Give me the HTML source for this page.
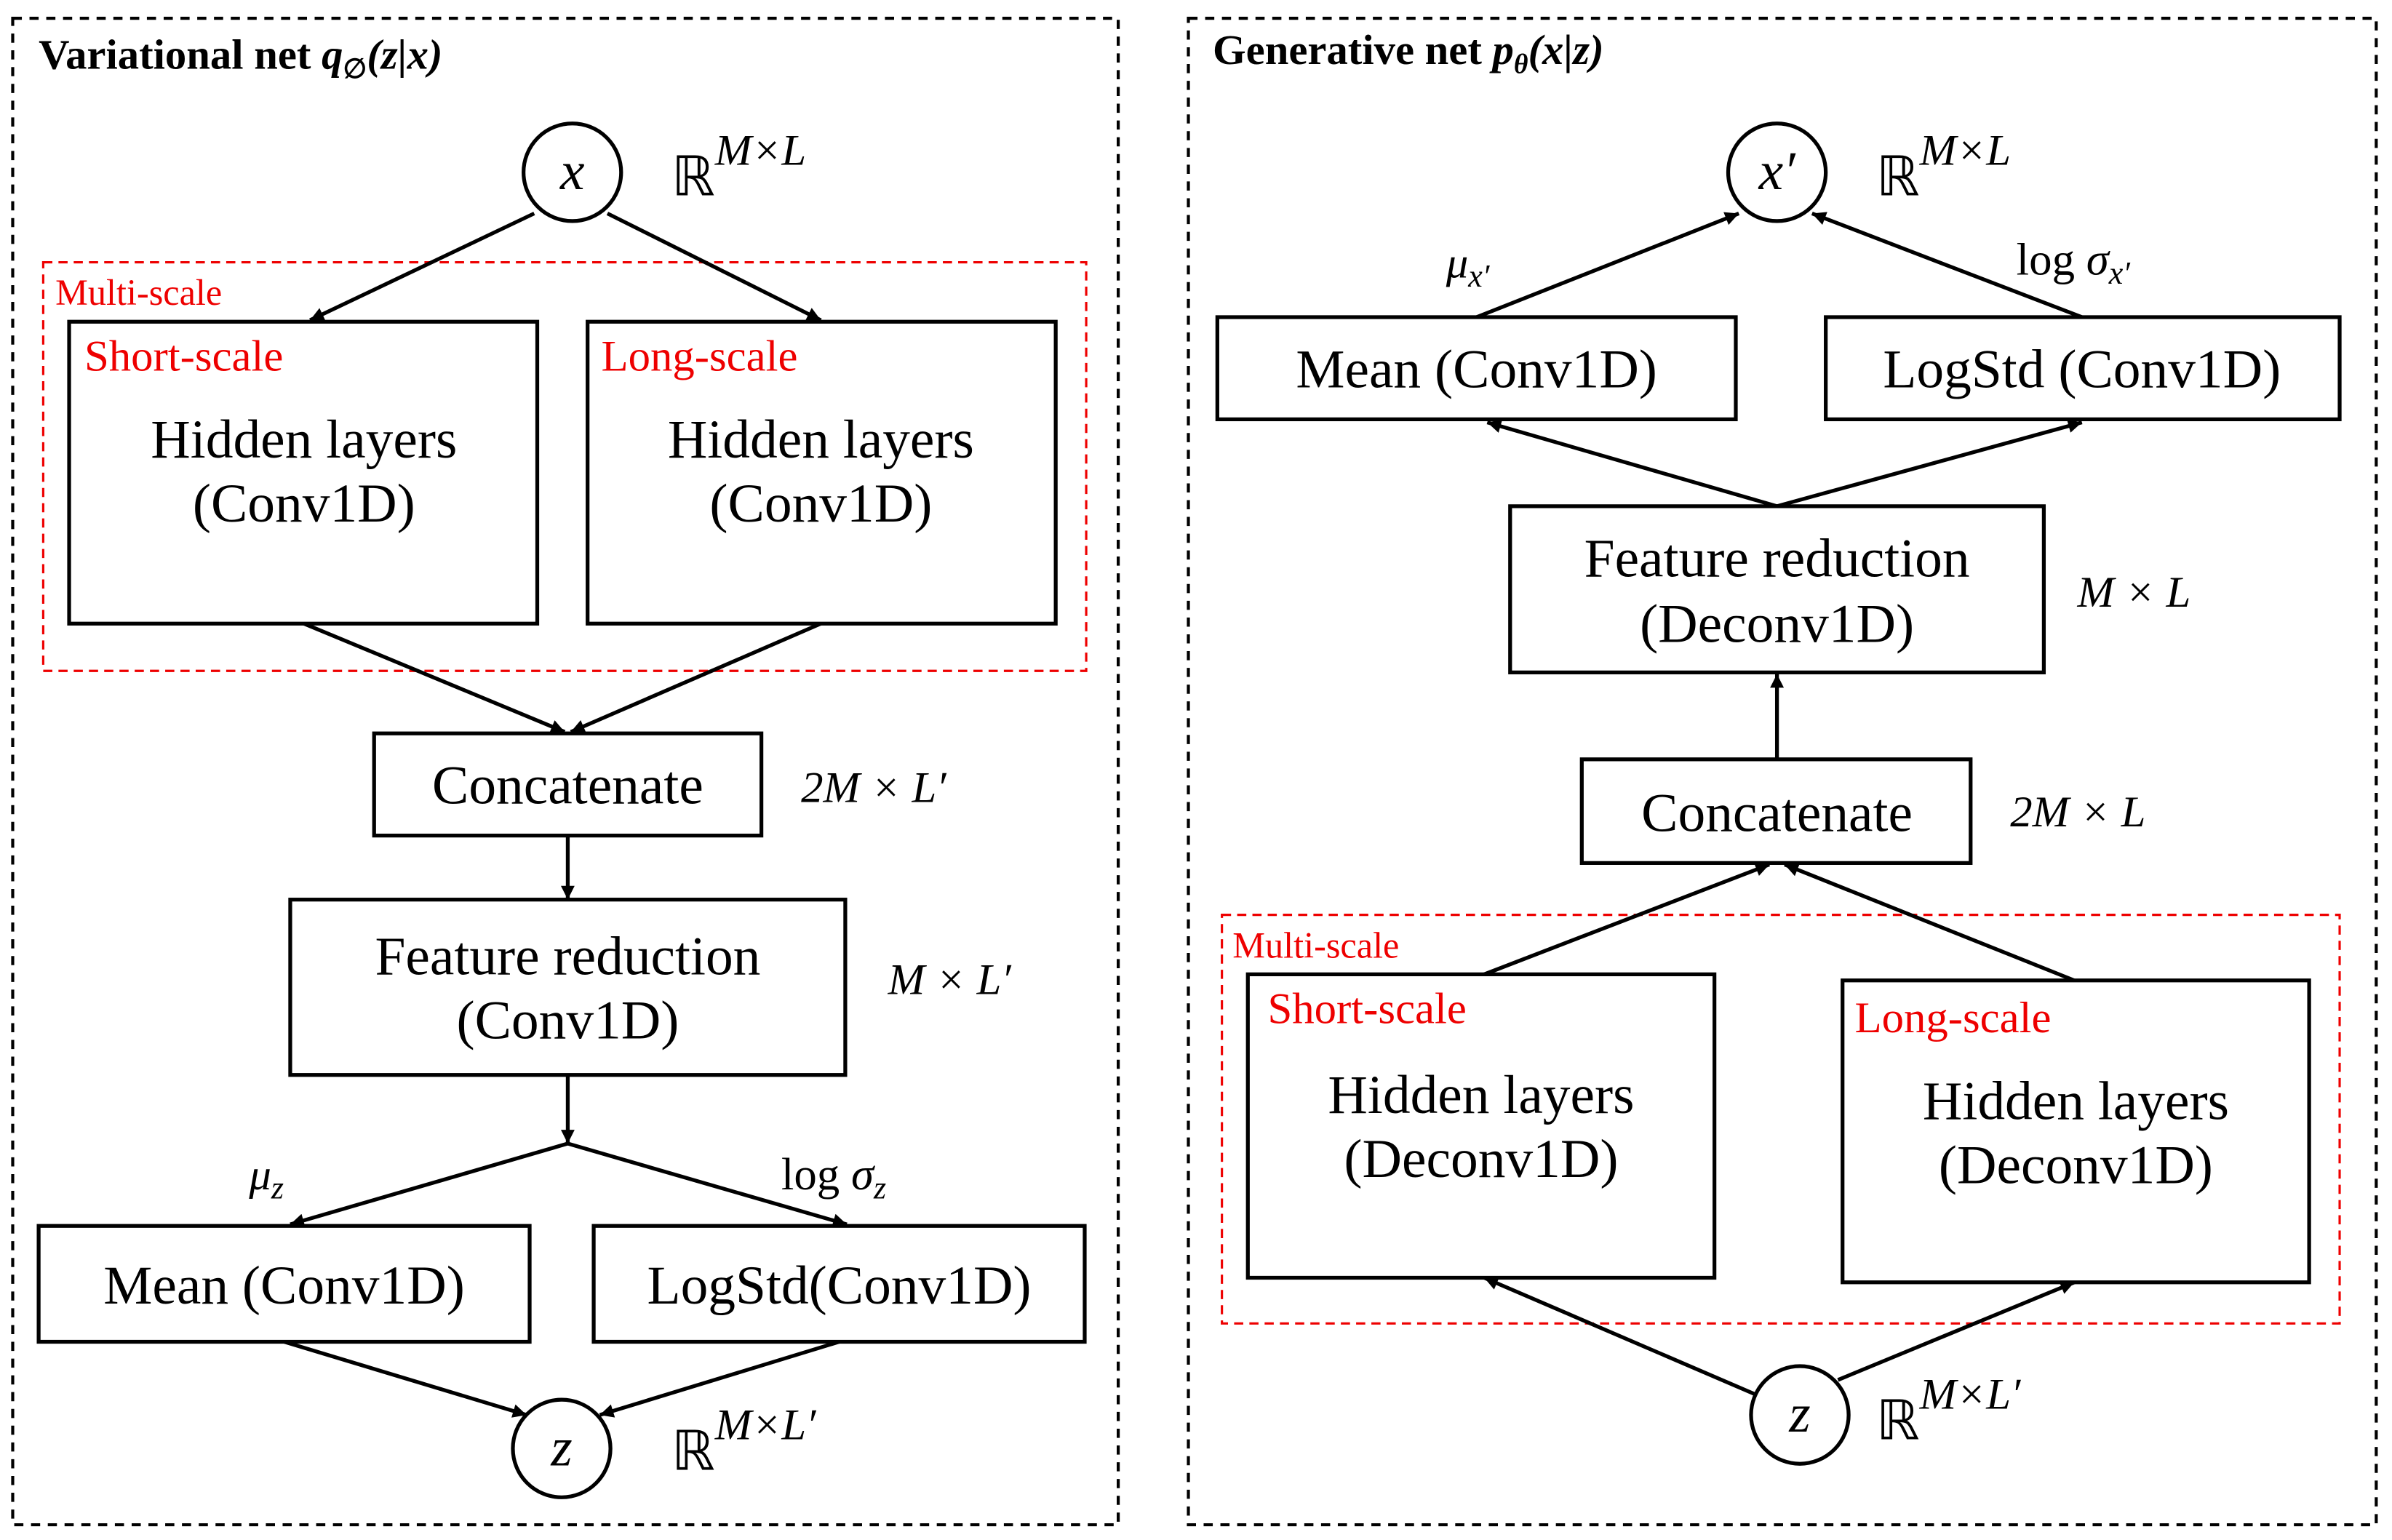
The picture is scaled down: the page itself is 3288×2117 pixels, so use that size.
<!DOCTYPE html>
<html><head><meta charset="utf-8"><style>
html,body{margin:0;padding:0;background:#fff;}
svg{display:block;}
text{font-family:"Liberation Serif",serif;fill:#000;}
.t{font-size:36px;text-anchor:middle;}
.r{fill:#e00;font-size:29px;}
.rs{fill:#e00;font-size:24px;}
.m{font-style:italic;font-size:29px;}
</style></head><body>
<svg width="3288" height="2117" viewBox="0 0 1568 1010" xmlns="http://www.w3.org/2000/svg">
<defs><marker id="a" viewBox="0 0 10 10" refX="10" refY="5" markerWidth="11" markerHeight="9" markerUnits="userSpaceOnUse" orient="auto"><path d="M0,0 L10,5 L0,10 z" fill="#000"/></marker></defs>
<g fill="none" stroke="#000" stroke-width="2">
<rect x="8" y="12" width="725" height="988" stroke-dasharray="6,5"/>
<rect x="779" y="12" width="779" height="988" stroke-dasharray="6,5"/>
</g>
<g fill="none" stroke="#e00" stroke-width="1.5" stroke-dasharray="6,4">
<rect x="28" y="172" width="684" height="268"/>
<rect x="801" y="600" width="733" height="268"/>
</g>
<g fill="#fff" stroke="#000" stroke-width="2.5">
<circle cx="375" cy="113" r="32"/>
<rect x="45" y="211" width="307" height="198"/>
<rect x="385" y="211" width="307" height="198"/>
<rect x="245" y="481" width="254" height="67"/>
<rect x="190" y="590" width="364" height="115"/>
<rect x="25" y="804" width="322" height="76"/>
<rect x="389" y="804" width="322" height="76"/>
<circle cx="368" cy="950" r="32"/>
<circle cx="1165" cy="113" r="32"/>
<rect x="798" y="208" width="340" height="67"/>
<rect x="1197" y="208" width="337" height="67"/>
<rect x="990" y="332" width="350" height="109"/>
<rect x="1037" y="498" width="255" height="68"/>
<rect x="818" y="639" width="306" height="199"/>
<rect x="1208" y="643" width="306" height="198"/>
<circle cx="1180" cy="928" r="32"/>
</g>
<g stroke="#000" stroke-width="2.5" marker-end="url(#a)" fill="none">
<line x1="350" y1="140" x2="203" y2="210"/>
<line x1="398" y1="140" x2="538" y2="210"/>
<line x1="199" y1="409" x2="370" y2="480"/>
<line x1="538" y1="409" x2="374" y2="480"/>
<line x1="372" y1="548" x2="372" y2="590"/>
<line x1="372" y1="705" x2="372" y2="750"/>
<line x1="372" y1="750" x2="190" y2="803"/>
<line x1="372" y1="750" x2="555" y2="803"/>
<line x1="186" y1="880" x2="345" y2="928"/>
<line x1="550" y1="880" x2="393" y2="928"/>
<line x1="968" y1="208" x2="1140" y2="140"/>
<line x1="1365" y1="208" x2="1188" y2="140"/>
<line x1="1165" y1="332" x2="975" y2="277"/>
<line x1="1165" y1="332" x2="1365" y2="277"/>
<line x1="1165" y1="497" x2="1165" y2="442"/>
<line x1="973" y1="639" x2="1160" y2="567"/>
<line x1="1360" y1="643" x2="1170" y2="567"/>
<line x1="1152" y1="915" x2="973" y2="838"/>
<line x1="1205" y1="905" x2="1360" y2="841"/>
</g>
<text x="25" y="45" style="font-size:28px;font-weight:bold">Variational net <tspan font-style="italic">q</tspan><tspan font-size="18" dy="6">∅</tspan><tspan dy="-6" font-style="italic">(z|x)</tspan></text>
<text x="795" y="42" style="font-size:28px;font-weight:bold">Generative net <tspan font-style="italic">p</tspan><tspan font-size="18" dy="6" font-style="italic">θ</tspan><tspan dy="-6" font-style="italic">(x|z)</tspan></text>
<text x="375" y="124" class="t" font-style="italic">x</text>
<text x="440" y="128" style="font-size:36px">ℝ<tspan class="m" font-size="24" dy="-20">M×L</tspan></text>
<text x="36" y="200" class="rs">Multi-scale</text>
<text x="55" y="243" class="r">Short-scale</text>
<text x="394" y="243" class="r">Long-scale</text>
<text x="199" y="300" class="t">Hidden layers</text>
<text x="199" y="342" class="t">(Conv1D)</text>
<text x="538" y="300" class="t">Hidden layers</text>
<text x="538" y="342" class="t">(Conv1D)</text>
<text x="372" y="527" class="t">Concatenate</text>
<text x="525" y="526" class="m">2M × L′</text>
<text x="372" y="639" class="t">Feature reduction</text>
<text x="372" y="681" class="t">(Conv1D)</text>
<text x="582" y="652" class="m">M × L′</text>
<text x="163" y="780" class="m">μ<tspan font-size="21" dy="6">z</tspan></text>
<text x="512" y="780" style="font-size:30px">log <tspan font-style="italic">σ</tspan><tspan font-style="italic" font-size="21" dy="6">z</tspan></text>
<text x="186" y="855" class="t">Mean (Conv1D)</text>
<text x="550" y="855" class="t">LogStd(Conv1D)</text>
<text x="368" y="961" class="t" font-style="italic">z</text>
<text x="440" y="964" style="font-size:36px">ℝ<tspan class="m" font-size="24" dy="-20">M×L′</tspan></text>
<text x="1165" y="124" class="t" font-style="italic">x′</text>
<text x="1230" y="128" style="font-size:36px">ℝ<tspan class="m" font-size="24" dy="-20">M×L</tspan></text>
<text x="948" y="182" class="m">μ<tspan font-size="21" dy="6">x′</tspan></text>
<text x="1322" y="180" style="font-size:30px">log <tspan font-style="italic">σ</tspan><tspan font-style="italic" font-size="21" dy="6">x′</tspan></text>
<text x="968" y="254" class="t">Mean (Conv1D)</text>
<text x="1365" y="254" class="t">LogStd (Conv1D)</text>
<text x="1165" y="378" class="t">Feature reduction</text>
<text x="1165" y="421" class="t">(Deconv1D)</text>
<text x="1362" y="398" class="m">M × L</text>
<text x="1165" y="545" class="t">Concatenate</text>
<text x="1318" y="542" class="m">2M × L</text>
<text x="808" y="628" class="rs">Multi-scale</text>
<text x="831" y="671" class="r">Short-scale</text>
<text x="1216" y="677" class="r">Long-scale</text>
<text x="971" y="730" class="t">Hidden layers</text>
<text x="971" y="772" class="t">(Deconv1D)</text>
<text x="1361" y="734" class="t">Hidden layers</text>
<text x="1361" y="776" class="t">(Deconv1D)</text>
<text x="1180" y="939" class="t" font-style="italic">z</text>
<text x="1230" y="944" style="font-size:36px">ℝ<tspan class="m" font-size="24" dy="-20">M×L′</tspan></text>
</svg>
</body></html>
